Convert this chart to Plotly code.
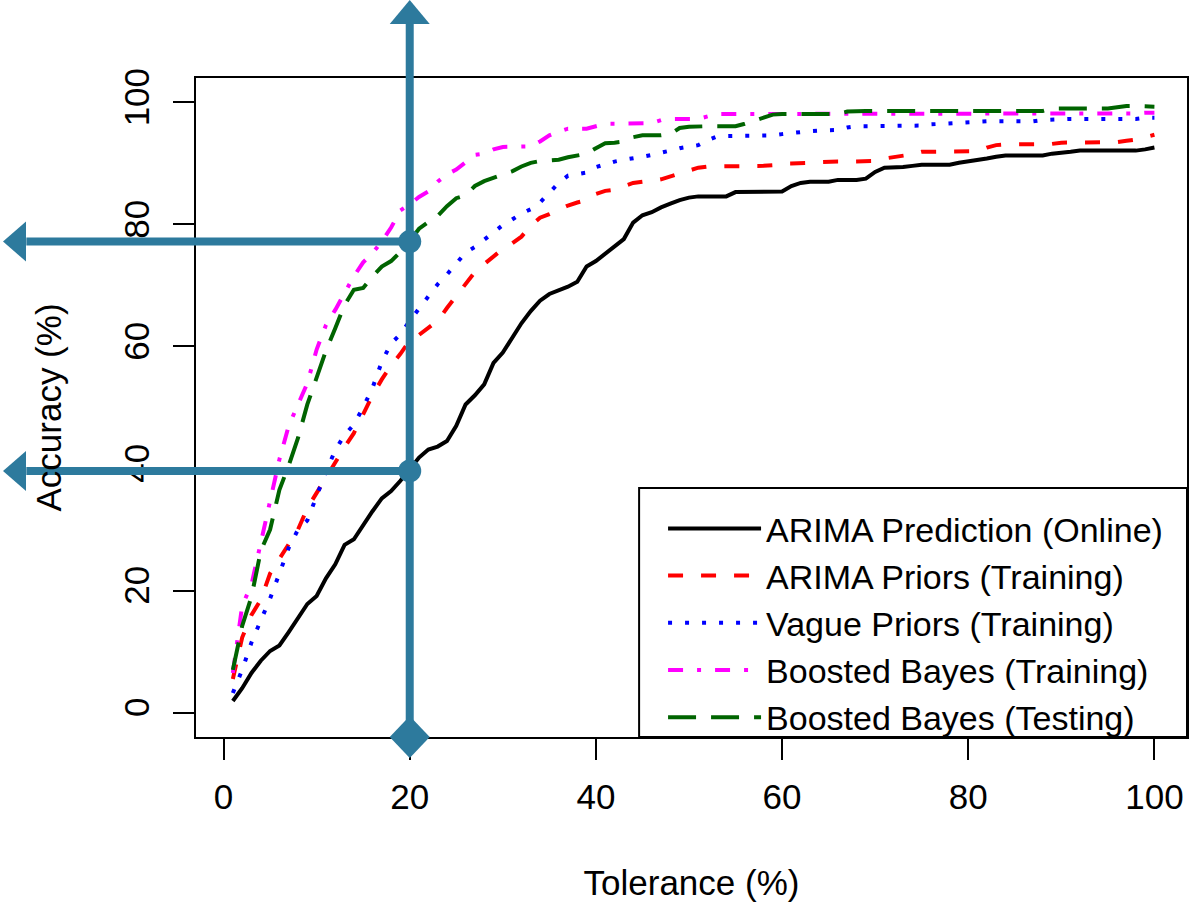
import plotly.graph_objects as go

tolerance = list(range(1, 101))

arima_online = [1.9, 4.0, 6.5, 8.5, 10.1, 11.0, 13.2, 15.5, 17.8, 19.1,
                22.0, 24.3, 27.5, 28.4, 30.8, 33.0, 35.1, 36.3, 38.0, 39.8,
                41.8, 43.1, 43.6, 44.5, 47.0, 50.5, 52.0, 53.8, 57.3, 59.0,
                61.5, 63.8, 65.8, 67.5, 68.6, 69.2, 69.8, 70.6, 73.1, 74.0,
                75.2, 76.6, 77.6, 80.3, 81.5, 82.0, 82.8, 83.4, 84.0, 84.4,
                84.6, 84.6, 84.6, 84.6, 85.3, 85.3, 85.3, 85.3, 85.3, 85.4,
                86.3, 86.8, 87.0, 87.0, 87.0, 87.3, 87.3, 87.3, 87.5, 88.6,
                89.3, 89.3, 89.4, 89.6, 89.8, 89.8, 89.8, 89.8, 90.1, 90.3,
                90.6, 90.8, 91.1, 91.3, 91.3, 91.3, 91.3, 91.3, 91.6, 91.7,
                91.9, 92.1, 92.1, 92.1, 92.1, 92.1, 92.1, 92.1, 92.3, 92.6]

arima_priors = [5.5, 12.3, 16.0, 18.5, 22.8, 25.2, 27.5, 30.0, 33.5, 36.0,
                38.5, 41.2, 43.5, 45.8, 49.0, 52.0, 54.6, 56.9, 58.8, 61.0,
                61.9, 63.0, 64.2, 66.3, 68.3, 70.1, 72.2, 73.5, 74.8, 76.0,
                76.9, 78.0, 79.8, 81.1, 81.7, 82.4, 83.1, 83.6, 84.0, 85.0,
                85.5, 85.7, 86.2, 86.8, 87.0, 87.1, 87.4, 87.9, 88.3, 88.9,
                89.3, 89.5, 89.5, 89.6, 89.6, 89.6, 89.6, 89.6, 89.7, 90.0,
                90.0, 90.0, 90.1, 90.2, 90.3, 90.3, 90.3, 90.3, 90.3, 90.4,
                90.8, 91.0, 91.2, 91.5, 91.9, 91.9, 91.9, 91.9, 91.9, 91.9,
                92.0, 92.6, 93.0, 93.1, 93.1, 93.1, 93.1, 93.1, 93.2, 93.4,
                93.4, 93.4, 93.4, 93.4, 93.4, 93.5, 93.7, 93.9, 94.3, 94.7]

vague_priors = [3.2, 7.0, 11.5, 15.0, 18.7, 22.8, 27.0, 30.0, 31.5, 35.5,
                39.5, 43.0, 45.5, 47.2, 50.0, 53.2, 57.5, 60.5, 62.0, 64.2,
                66.2, 68.4, 70.2, 71.8, 73.7, 75.4, 76.3, 77.5, 78.8, 79.9,
                80.8, 81.8, 82.5, 83.6, 85.2, 86.8, 88.0, 88.3, 88.5, 89.4,
                89.9, 90.3, 90.6, 90.8, 91.1, 91.4, 91.7, 92.1, 92.5, 92.8,
                93.0, 93.8, 94.4, 94.5, 94.5, 94.5, 94.5, 94.5, 94.6, 94.8,
                95.0, 95.1, 95.3, 95.4, 95.4, 95.5, 95.9, 96.1, 96.1, 96.1,
                96.1, 96.1, 96.1, 96.1, 96.2, 96.4, 96.5, 96.5, 96.6, 96.8,
                96.9, 96.9, 96.9, 96.9, 96.9, 96.9, 96.9, 97.1, 97.2, 97.3,
                97.3, 97.3, 97.3, 97.3, 97.3, 97.3, 97.3, 97.3, 97.5, 97.5]

boosted_training = [6.5, 17.5, 21.0, 28.0, 34.5, 41.5, 47.0, 50.5, 54.0, 59.5,
                    63.5, 66.0, 68.8, 71.5, 73.8, 75.3, 77.2, 79.5, 82.3, 83.3,
                    84.5, 85.4, 87.0, 88.2, 89.0, 90.3, 91.4, 91.6, 92.3, 92.7,
                    92.7, 92.7, 92.8, 93.6, 94.6, 95.2, 95.7, 95.7, 95.7, 96.1,
                    96.5, 96.5, 96.5, 96.5, 96.5, 96.6, 97.1, 97.3, 97.3, 97.3,
                    97.3, 97.7, 98.1, 98.1, 98.1, 98.1, 98.1, 98.1, 98.1, 98.1,
                    98.1, 98.1, 98.1, 98.1, 98.1, 98.1, 98.1, 98.1, 98.1, 98.1,
                    98.1, 98.1, 98.1, 98.1, 98.1, 98.1, 98.1, 98.1, 98.1, 98.1,
                    98.1, 98.1, 98.1, 98.1, 98.1, 98.1, 98.1, 98.1, 98.1, 98.1,
                    98.1, 98.1, 98.1, 98.1, 98.2, 98.2, 98.2, 98.2, 98.3, 98.3]

boosted_testing = [7.0, 14.2, 19.0, 26.5, 30.0, 36.5, 40.5, 45.0, 50.5, 54.9,
                   59.3, 63.0, 66.8, 69.3, 69.6, 71.5, 73.1, 74.0, 75.5, 77.3,
                   79.3, 80.4, 81.4, 83.0, 84.3, 84.8, 86.3, 87.1, 87.7, 88.2,
                   88.7, 89.5, 90.1, 90.4, 90.5, 90.6, 91.0, 91.3, 91.6, 92.5,
                   93.3, 93.4, 93.6, 94.3, 94.6, 94.6, 94.6, 94.8, 95.8, 96.0,
                   96.1, 96.1, 96.1, 96.1, 96.1, 96.5, 97.0, 97.5, 98.0, 98.1,
                   98.1, 98.1, 98.1, 98.1, 98.1, 98.1, 98.5, 98.6, 98.6, 98.6,
                   98.6, 98.6, 98.6, 98.6, 98.6, 98.6, 98.5, 98.5, 98.5, 98.5,
                   98.5, 98.5, 98.5, 98.5, 98.5, 98.6, 98.6, 98.6, 99.0, 99.0,
                   99.0, 99.0, 99.0, 99.0, 99.0, 99.2, 99.4, 99.4, 99.4, 99.3]

series_names = ["ARIMA Prediction (Online)", "ARIMA Priors (Training)",
                "Vague Priors (Training)", "Boosted Bayes (Training)",
                "Boosted Bayes (Testing)"]
tick_vals = [0, 20, 40, 60, 80, 100]

# highlighted reading (annotation overlay)
highlight_x = 20
highlight_levels = [77.2, 39.6]

# ---- styling ----
FONT = "Liberation Sans, Arial, Helvetica, sans-serif"
ACC = "#2D7A9D"
XR = [-2.96, 103.5]
YR = [-4.0, 104.0]
W, H = 1191, 906
ML, MR, MT, MB = 196, 2, 78, 169
PLOT_W = W - ML - MR
PLOT_H = H - MT - MB
LEG_BOX_LEFT = 640      # px, legend frame left edge
LEG_BOX_TOP = 488       # px, legend frame top edge
LEG_ITEMS_LEFT = 664    # px, left edge of legend entries
LEG_MID_ROW = 622.8     # px, centre of the middle legend row

styles = [
    dict(color="black", width=4, dash="solid"),
    dict(color="#FF0000", width=4, dash="15px,18px"),
    dict(color="#0000FF", width=4, dash="4px,13px"),
    dict(color="#FF00FF", width=4, dash="15px,14px,4px,14px"),
    dict(color="#006400", width=4, dash="28px,15px"),
]
all_series = [arima_online, arima_priors, vague_priors, boosted_training, boosted_testing]

fig = go.Figure()
for name, ys, st in zip(series_names, all_series, styles):
    fig.add_trace(go.Scatter(x=tolerance, y=ys, mode="lines", name=name, line=st))


def paper_x(v):
    return (v - XR[0]) / (XR[1] - XR[0])


def paper_y(v):
    return (v - YR[0]) / (YR[1] - YR[0])


def px_to_paper_x(p):
    return (p - ML) / PLOT_W


def px_to_paper_y(p):
    return (H - MB - p) / PLOT_H


hx = paper_x(highlight_x)
shapes = []
# legend frame
shapes.append(dict(type="rect", xref="paper", yref="paper",
                   x0=px_to_paper_x(LEG_BOX_LEFT), x1=1, y0=0,
                   y1=px_to_paper_y(LEG_BOX_TOP),
                   fillcolor="white", line=dict(color="black", width=2),
                   layer="below"))
# vertical shaft from the x axis to the top arrowhead
shapes.append(dict(type="line", xref="paper", yref="paper", x0=hx, x1=hx,
                   y0=0, y1=1 + 56 / PLOT_H, line=dict(color=ACC, width=8),
                   layer="above"))
# top arrowhead (tip at the top of the figure)
shapes.append(dict(type="path", xref="paper", yref="paper",
                   xsizemode="pixel", ysizemode="pixel", xanchor=hx, yanchor=1,
                   path="M0,%d L-20,%d L20,%d Z" % (MT, MT - 24, MT - 24),
                   fillcolor=ACC, line=dict(width=0), layer="above"))
# diamond at the x axis
shapes.append(dict(type="path", xref="paper", yref="paper",
                   xsizemode="pixel", ysizemode="pixel", xanchor=hx, yanchor=0,
                   path="M0,21 L20,0 L0,-21 L-20,0 Z",
                   fillcolor=ACC, line=dict(width=0), layer="above"))
for lvl in highlight_levels:
    py = paper_y(lvl)
    shapes.append(dict(type="line", xref="paper", yref="paper",
                       x0=-(ML - 26) / PLOT_W, x1=hx, y0=py, y1=py,
                       line=dict(color=ACC, width=8), layer="above"))
    shapes.append(dict(type="path", xref="paper", yref="paper",
                       xsizemode="pixel", ysizemode="pixel", xanchor=0, yanchor=py,
                       path="M%d,0 L%d,20 L%d,-20 Z" % (-(ML - 3), -(ML - 26), -(ML - 26)),
                       fillcolor=ACC, line=dict(width=0), layer="above"))
    shapes.append(dict(type="circle", xref="paper", yref="paper",
                       xsizemode="pixel", ysizemode="pixel", xanchor=hx, yanchor=py,
                       x0=-11.5, x1=11.5, y0=-11.5, y1=11.5,
                       fillcolor=ACC, line=dict(width=0), layer="above"))

axis_common = dict(showgrid=False, zeroline=False, showline=True, mirror=True,
                   linecolor="black", linewidth=2, ticks="outside", ticklen=21,
                   tickwidth=2, tickcolor="black", tickvals=tick_vals,
                   tickfont=dict(family=FONT, size=35, color="black"))

fig.update_layout(
    width=W, height=H,
    margin=dict(l=ML, r=MR, t=MT, b=MB),
    plot_bgcolor="white", paper_bgcolor="white",
    font=dict(family=FONT, size=35, color="black"),
    xaxis=dict(range=XR, ticklabelstandoff=7,
               title=dict(text="Tolerance (%)", standoff=55,
                          font=dict(family=FONT, size=35)), **axis_common),
    yaxis=dict(range=YR, tickangle=-90, ticklabelstandoff=10,
               title=dict(text="Accuracy (%)", standoff=45,
                          font=dict(family=FONT, size=35)), **axis_common),
    legend=dict(x=px_to_paper_x(LEG_ITEMS_LEFT), y=px_to_paper_y(LEG_MID_ROW),
                xanchor="left", yanchor="middle",
                borderwidth=0, bgcolor="rgba(0,0,0,0)",
                font=dict(family=FONT, size=34, color="black"),
                indentation=0, itemwidth=93, tracegroupgap=0),
    shapes=shapes,
    showlegend=True,
)

fig.write_html("out.html", config={"displayModeBar": False},
               post_script="document.body.style.margin='0';")
